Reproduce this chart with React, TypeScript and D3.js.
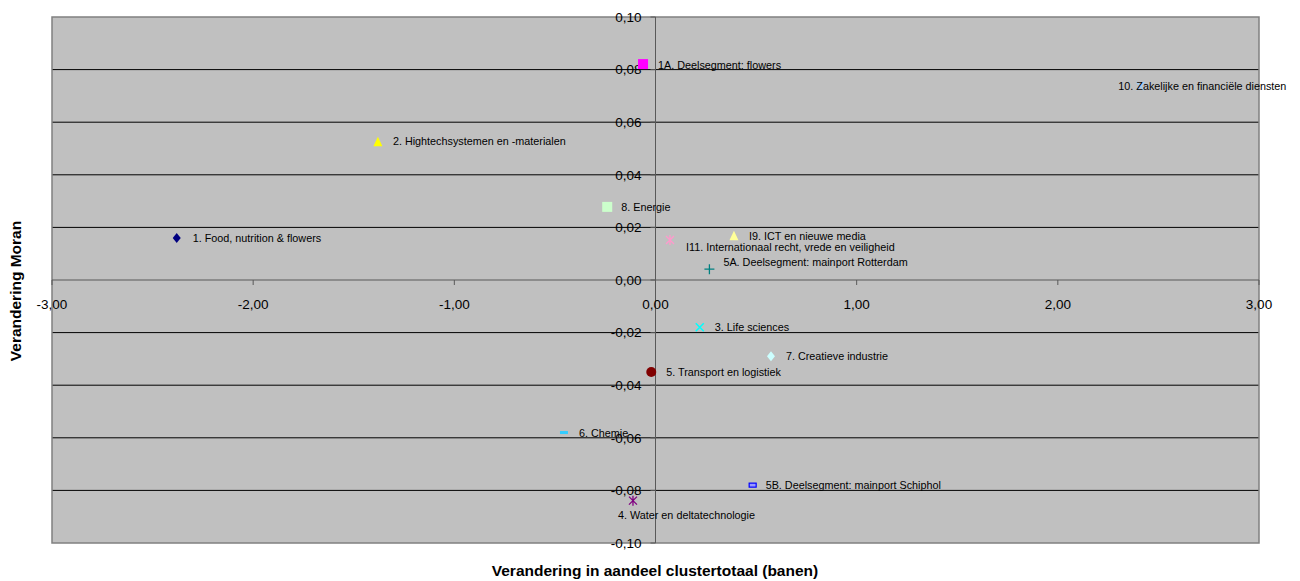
import React from "react";
import * as d3 from "d3";

const names = [
  "1. Food, nutrition & flowers",
  "1A. Deelsegment: flowers",
  "2.  Hightechsystemen en -materialen",
  "8. Energie",
  "I9. ICT en nieuwe media",
  "I11. Internationaal recht, vrede en veiligheid",
  "5A. Deelsegment: mainport Rotterdam",
  "10. Zakelijke en financiële diensten",
  "3.  Life sciences",
  "7. Creatieve industrie",
  "5.  Transport en logistiek",
  "6. Chemie",
  "4.  Water en deltatechnologie",
  "5B. Deelsegment: mainport Schiphol",
];
const xValues = [-2.38, -0.062, -1.38, -0.24, 0.39, 0.072, 0.268, 2.41, 0.22, 0.574, -0.021, -0.455, -0.112, 0.483];
const yValues = [0.016, 0.0821, 0.0526, 0.0278, 0.0168, 0.0152, 0.0041, 0.0738, -0.018, -0.029, -0.035, -0.058, -0.0839, -0.078];

const xTicks = [-3, -2, -1, 0, 1, 2, 3];
const yTicks = [-0.1, -0.08, -0.06, -0.04, -0.02, 0, 0.02, 0.04, 0.06, 0.08, 0.1];

// marker styles: shape, colour, label offset (px)
const styles = [
  { shape: "diamond", color: "#000080", dx: 16, dy: 0 },
  { shape: "square", color: "#FF00FF", dx: 15, dy: 1 },
  { shape: "triangle", color: "#FFFF00", dx: 15, dy: 0 },
  { shape: "square", color: "#CCFFCC", dx: 14, dy: 0 },
  { shape: "triangle", color: "#FFFF99", dx: 15, dy: 0 },
  { shape: "star", color: "#FF99CC", dx: 16, dy: 7 },
  { shape: "plus", color: "#008080", dx: 14, dy: -7 },
  { shape: "x", color: "#99CCFF", dx: -22, dy: 0 },
  { shape: "x", color: "#00FFFF", dx: 15, dy: 0 },
  { shape: "diamond", color: "#CCFFFF", dx: 15, dy: 0 },
  { shape: "circle", color: "#800000", dx: 15, dy: 0 },
  { shape: "dash", color: "#33CCFF", dx: 15, dy: 1 },
  { shape: "star", color: "#800080", dx: -15, dy: 15 },
  { shape: "rect", color: "#0000FF", dx: 13, dy: 0 },
];

const W = 1300;
const H = 581;
const left = 52;
const right = 1259;
const top = 17;
const bottom = 543;

const fmt = (v: number) =>
  d3.format(".2f")(v).replace("\u2212", "-").replace("-0.00", "0.00").replace(".", ",");

function Marker({ shape, color, x, y }: { shape: string; color: string; x: number; y: number }) {
  switch (shape) {
    case "diamond":
      return <path d={`M${x},${y - 5}L${x + 4},${y}L${x},${y + 5}L${x - 4},${y}Z`} fill={color} />;
    case "square":
      return <rect x={x - 5} y={y - 5} width={10} height={10} fill={color} />;
    case "triangle":
      return <path d={`M${x},${y - 5}L${x + 4.5},${y + 4.5}L${x - 4.5},${y + 4.5}Z`} fill={color} />;
    case "circle":
      return <circle cx={x} cy={y} r={5} fill={color} />;
    case "plus":
      return (
        <path d={`M${x - 5},${y}L${x + 5},${y}M${x},${y - 5}L${x},${y + 5}`} stroke={color} strokeWidth={1.3} />
      );
    case "x":
      return (
        <path d={`M${x - 4},${y - 4}L${x + 4},${y + 4}M${x + 4},${y - 4}L${x - 4},${y + 4}`} stroke={color} strokeWidth={1.5} />
      );
    case "star":
      return (
        <path
          d={`M${x - 4},${y - 4}L${x + 4},${y + 4}M${x + 4},${y - 4}L${x - 4},${y + 4}M${x},${y - 5}L${x},${y + 5}`}
          stroke={color}
          strokeWidth={1.3}
        />
      );
    case "dash":
      return <rect x={x - 4} y={y - 1.5} width={8} height={3} fill={color} />;
    case "rect":
      return <rect x={x - 3.5} y={y - 2} width={7} height={4} fill="#9999FF" stroke={color} strokeWidth={1.2} />;
    default:
      return null;
  }
}

export default function App() {
  const x = d3.scaleLinear().domain([-3, 3]).range([left, right]);
  const y = d3.scaleLinear().domain([-0.1, 0.1]).range([bottom, top]);
  const x0 = x(0);
  const y0 = y(0);
  const font = "'Liberation Sans', Arial, sans-serif";

  return (
    <svg
      width={W}
      height={H}
      style={{ position: "absolute", left: 0, top: 0, fontFamily: font }}
    >
      <rect x={0} y={0} width={W} height={H} fill="#ffffff" />
      <rect x={left} y={top} width={right - left} height={bottom - top} fill="#C0C0C0" />
      {yTicks
        .filter((t) => Math.abs(t) > 1e-9 && Math.abs(Math.abs(t) - 0.1) > 1e-9)
        .map((t) => (
          <line key={"g" + t} x1={left} x2={right} y1={y(t)} y2={y(t)} stroke="#000" strokeWidth={1} />
        ))}
      <rect
        x={left}
        y={top}
        width={right - left}
        height={bottom - top}
        fill="none"
        stroke="#808080"
        strokeWidth={1.5}
      />
      {/* axes */}
      <line x1={left} x2={right} y1={y0} y2={y0} stroke="#595959" strokeWidth={1} />
      <line x1={x0} x2={x0} y1={top} y2={bottom} stroke="#595959" strokeWidth={1} />
      {xTicks.map((t) => (
        <g key={"x" + t}>
          <line x1={x(t)} x2={x(t)} y1={y0} y2={y0 + 5} stroke="#595959" />
          <text x={x(t)} y={y0 + 29} textAnchor="middle" fontSize={13.5} fill="#000">
            {fmt(t)}
          </text>
        </g>
      ))}
      {yTicks.map((t) => (
        <g key={"y" + t}>
          <line x1={x0 - 5} x2={x0} y1={y(t)} y2={y(t)} stroke="#595959" />
          <text x={x0 - 14} y={y(t)} dy="0.35em" textAnchor="end" fontSize={13.5} fill="#000">
            {fmt(t)}
          </text>
        </g>
      ))}
      {names.map((n, i) => {
        const s = styles[i];
        return <Marker key={n} shape={s.shape} color={s.color} x={x(xValues[i])} y={y(yValues[i])} />;
      })}
      {names.map((n, i) => {
        const s = styles[i];
        return (
          <text
            key={"l" + n}
            x={x(xValues[i]) + s.dx}
            y={y(yValues[i]) + s.dy}
            dy="0.35em"
            fontSize={10.8}
            fill="#000"
          >
            {n}
          </text>
        );
      })}
      <text x={655} y={576} textAnchor="middle" fontSize={15.5} fontWeight="bold" fill="#000">
        Verandering in aandeel clustertotaal (banen)
      </text>
      <text
        transform="translate(21,291) rotate(-90)"
        textAnchor="middle"
        fontSize={15.5}
        fontWeight="bold"
        fill="#000"
      >
        Verandering Moran
      </text>
    </svg>
  );
}
